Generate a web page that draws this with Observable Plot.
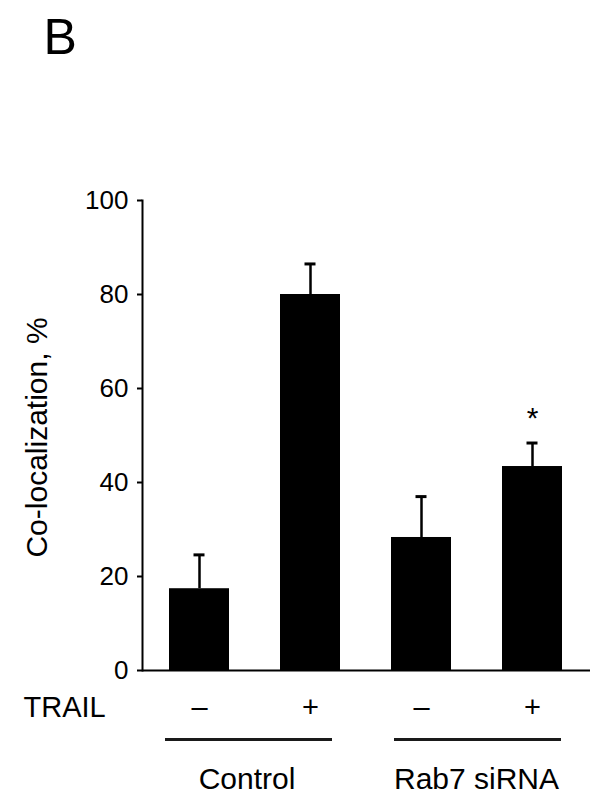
<!DOCTYPE html>
<html>
<head>
<meta charset="utf-8">
<script src="https://cdn.jsdelivr.net/npm/d3@7"></script>
<script src="https://cdn.jsdelivr.net/npm/@observablehq/plot@0.6"></script>
<style>
  html, body { margin: 0; padding: 0; background: #fff; }
  #chart { width: 604px; height: 812px; }
</style>
</head>
<body>
<div id="chart"></div>
<script>
const conditions = ["Control –", "Control +", "Rab7 siRNA –", "Rab7 siRNA +"];
const trailLabels = ["–", "+", "–", "+"];
const groupOf = ["Control", "Control", "Rab7 siRNA", "Rab7 siRNA"];
const groupNames = ["Control", "Rab7 siRNA"];
const means = [17.4, 80.0, 28.3, 43.4];
const errors = [7.2, 6.5, 8.7, 5.0];
const significant = [false, false, false, true];
const yTicks = [0, 20, 40, 60, 80, 100];
const panelLabel = "B";
const yLabel = "Co-localization, %";
const rowLabel = "TRAIL";

const rows = conditions.map((c, i) => ({
  key: c, trail: trailLabels[i], group: groupOf[i],
  mean: means[i], upper: means[i] + errors[i], sig: significant[i]
}));
const groupRows = groupNames.map(g => {
  const members = rows.filter(r => r.group === g);
  return {group: g, first: members[0].key, last: members[members.length - 1].key};
});

const font = "'Liberation Sans', Arial, sans-serif";

const chart = Plot.plot({
  width: 604,
  height: 812,
  marginTop: 200,
  marginBottom: 142,
  marginLeft: 142,
  marginRight: 14,
  style: {fontFamily: font, color: "#000", background: "#fff"},
  x: {type: "band", domain: conditions, paddingInner: 0.455, paddingOuter: 0.23, axis: null},
  y: {domain: [0, 100], axis: null},
  marks: [
    Plot.frame({anchor: "left", strokeWidth: 2}),
    Plot.axisY({ticks: yTicks, tickSize: 5, tickPadding: 9, fontSize: 26, strokeWidth: 2, label: null}),
    Plot.axisX({tickSize: 0, tickPadding: 26, fontSize: 29, label: null,
      tickFormat: d => trailLabels[conditions.indexOf(d)]}),
    Plot.ruleX(rows, {x: "key", y1: "mean", y2: "upper", strokeWidth: 2.5}),
    Plot.tickY(rows, {x: "key", y: "upper", insetLeft: 24.5, insetRight: 24.5, strokeWidth: 3}),
    Plot.barY(rows, {x: "key", y: "mean", fill: "#000"}),
    Plot.ruleY([0], {strokeWidth: 2}),
    Plot.text(rows.filter(r => r.sig), {x: "key", y: "upper", text: () => "*", dy: -25, fontSize: 30}),
    Plot.ruleY(groupRows.slice(0, 1), {y: () => 0, x1: "first", x2: "last", dy: 69, strokeWidth: 3, stroke: "#1a1a1a", insetLeft: -4, insetRight: 8}),
    Plot.ruleY(groupRows.slice(1, 2), {y: () => 0, x1: "first", x2: "last", dy: 69, strokeWidth: 3, stroke: "#1a1a1a", insetLeft: 3, insetRight: 1}),
    Plot.text(groupRows.slice(0, 1), {x: "first", y: () => 0, text: "group", dx: 47.5, dy: 109, fontSize: 30}),
    Plot.text(groupRows.slice(1, 2), {x: "first", y: () => 0, text: "group", dx: 55, dy: 109, fontSize: 30}),
    Plot.text([rowLabel], {frameAnchor: "bottom-left", textAnchor: "start", lineAnchor: "middle", dx: -119, dy: 37, fontSize: 29}),
    Plot.text([yLabel], {frameAnchor: "left", textAnchor: "middle", lineAnchor: "middle", rotate: -90, dx: -105, dy: 2, fontSize: 30}),
    Plot.text([panelLabel], {frameAnchor: "top-left", textAnchor: "start", lineAnchor: "middle", dx: -99, dy: -163, fontSize: 50})
  ]
});
document.getElementById("chart").appendChild(chart);
</script>
</body>
</html>
